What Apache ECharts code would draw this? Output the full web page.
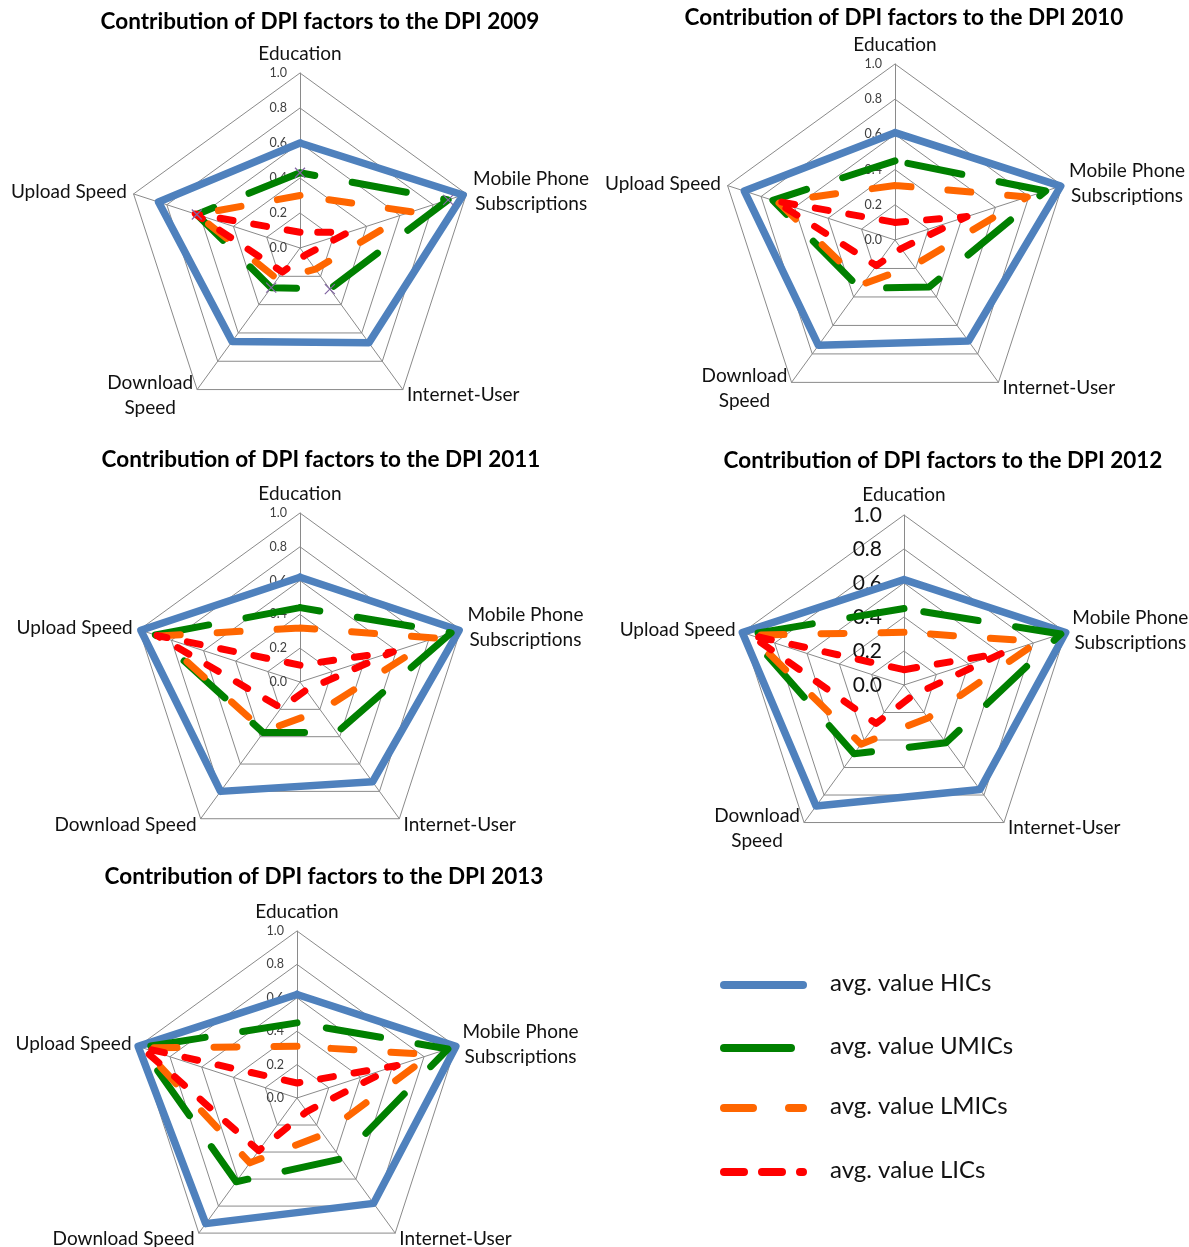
<!DOCTYPE html>
<html><head><meta charset="utf-8">
<script src="https://cdn.jsdelivr.net/npm/echarts@6/dist/echarts.min.js"></script>
<style>html,body{margin:0;padding:0;background:#fff}#c{width:1189px;height:1247px}</style>
</head><body><div id="c"></div>
<script>
// ---- data ----
const years = ['2009', '2010', '2011', '2012', '2013'];
// order used by the radar (counter-clockwise from top): Education, Upload, Download, Internet, Mobile
const factorsSplit = ['Education', 'Upload Speed', 'Download\nSpeed', 'Internet-User', 'Mobile Phone\nSubscriptions'];
const factorsFlat = ['Education', 'Upload Speed', 'Download Speed', 'Internet-User', 'Mobile Phone\nSubscriptions'];
const tickLabels = ['0.0', '0.2', '0.4', '0.6', '0.8', '1.0'];
const groups = ['avg. value HICs', 'avg. value UMICs', 'avg. value LMICs', 'avg. value LICs'];

const hic2009 = [0.60, 0.85, 0.66, 0.67, 0.98];
const umic2009 = [0.43, 0.62, 0.28, 0.29, 0.89];
const lmic2009 = [0.30, 0.62, 0.22, 0.15, 0.67];
const lic2009 = [0.09, 0.63, 0.17, 0.05, 0.29];

const hic2010 = [0.61, 0.90, 0.74, 0.71, 0.99];
const umic2010 = [0.45, 0.73, 0.34, 0.33, 0.90];
const lmic2010 = [0.31, 0.70, 0.31, 0.18, 0.79];
const lic2010 = [0.10, 0.72, 0.18, 0.06, 0.43];

const hic2011 = [0.62, 0.99, 0.80, 0.73, 0.99];
const umic2011 = [0.44, 0.90, 0.37, 0.37, 0.94];
const lmic2011 = [0.32, 0.88, 0.36, 0.21, 0.84];
const lic2011 = [0.10, 0.89, 0.19, 0.06, 0.58];

const hic2012 = [0.62, 1.00, 0.88, 0.76, 1.00];
const umic2012 = [0.45, 0.96, 0.50, 0.42, 0.97];
const lmic2012 = [0.31, 0.95, 0.43, 0.24, 0.83];
const lic2012 = [0.09, 0.95, 0.28, 0.08, 0.61];

const hic2013 = [0.62, 1.00, 0.93, 0.78, 1.00];
const umic2013 = [0.45, 0.98, 0.62, 0.45, 0.95];
const lmic2013 = [0.31, 0.97, 0.48, 0.27, 0.84];
const lic2013 = [0.09, 0.98, 0.39, 0.10, 0.63];

const valuesByYear = [
  [hic2009, umic2009, lmic2009, lic2009],
  [hic2010, umic2010, lmic2010, lic2010],
  [hic2011, umic2011, lmic2011, lic2011],
  [hic2012, umic2012, lmic2012, lic2012],
  [hic2013, umic2013, lmic2013, lic2013]
];

// ---- layout / style ----
const FONT = 'Lato';
const layout = [
  { center: [300, 248], r: 175, tx: 320, ty: 22, names: factorsSplit, tick: 12.5, tickGap: 13, tickColor: '#404040' },
  { center: [895, 240], r: 176, tx: 904, ty: 18, names: factorsSplit, tick: 12.5, tickGap: 13, tickColor: '#404040' },
  { center: [300, 682], r: 169, tx: 321, ty: 460, names: factorsFlat, tick: 12.5, tickGap: 13, tickColor: '#404040' },
  { center: [904, 685], r: 170, tx: 943, ty: 461, names: factorsSplit, tick: 21, tickGap: 22, tickColor: '#111' },
  { center: [297, 1098], r: 167, tx: 324, ty: 877, names: factorsFlat, tick: 12.5, tickGap: 13, tickColor: '#404040' }
];
const colors = ['#4F81BD', '#008000', '#FF6600', '#FF0000'];
const lineStyles = [
  { color: colors[0], width: 7.5, type: 'solid', cap: 'round', join: 'round' },
  { color: colors[1], width: 7, type: [55, 38], cap: 'round', join: 'round' },
  { color: colors[2], width: 7, type: [23, 37], cap: 'round', join: 'round' },
  { color: colors[3], width: 7, type: [13, 21], cap: 'round', join: 'round' }
];

const radars = layout.map(L => ({
  center: L.center,
  radius: L.r,
  startAngle: 90,
  splitNumber: 5,
  shape: 'polygon',
  indicator: L.names.map((n, k) => ({
    name: n, min: 0, max: 1,
    axisLabel: k === 0 ? {
      show: true, showMinLabel: true, showMaxLabel: true,
      margin: L.tickGap, fontFamily: FONT, fontSize: L.tick, color: L.tickColor,
      formatter: v => tickLabels[Math.round(v * 5)]
    } : { show: false }
  })),
  nameGap: 7,
  axisName: {
    formatter: n => n.split('\n').map(s => '{n|' + s + '}').join('\n'),
    rich: { n: { fontFamily: FONT, fontSize: 19, color: '#111', align: 'center', lineHeight: 25 } }
  },
  splitLine: { lineStyle: { color: '#8a8a8a', width: 1 } },
  splitArea: { show: false },
  axisLine: { lineStyle: { color: '#8a8a8a', width: 1 } },
  axisTick: { show: false },
  axisLabel: { show: false }
}));

const series = [];
valuesByYear.forEach((vals, i) => {
  vals.forEach((v, g) => {
    const s = {
      type: 'radar', radarIndex: i, name: groups[g], silent: true,
      symbol: 'none',
      lineStyle: lineStyles[g],
      data: [{ value: v, name: groups[g] }]
    };
    if (i === 0 && g === 1) {
      s.symbol = 'path://M0,0L10,10M10,0L0,10';
      s.symbolSize = 10;
      s.itemStyle = { color: 'rgba(0,0,0,0)', borderColor: '#8064A2', borderWidth: 1.2 };
    }
    series.push(s);
  });
});

const graphics = [];
layout.forEach((L, i) => {
  graphics.push({
    type: 'text', x: L.tx, y: L.ty,
    style: { text: 'Contribution of DPI factors to the DPI ' + years[i], fontFamily: FONT, fontWeight: 'bold',
      fontSize: 22.5, fill: '#000', textAlign: 'center', textVerticalAlign: 'middle' }
  });
});
// legend
const legY = [985, 1048, 1108, 1172];
const legEnd = [803, 791, 803, 803];
const legDash = [null, null, [29, 36], [20, 18]];
groups.forEach((g, k) => {
  graphics.push({
    type: 'line', shape: { x1: 724, y1: legY[k], x2: legEnd[k], y2: legY[k] },
    style: { stroke: colors[k], lineWidth: 8, lineCap: 'round', lineDash: legDash[k] || null }
  });
  graphics.push({
    type: 'text', x: 830, y: legY[k] - 2,
    style: { text: g, fontFamily: FONT, fontSize: 24, fill: '#111', textAlign: 'left', textVerticalAlign: 'middle' }
  });
});

const chart = echarts.init(document.getElementById('c'), null, { renderer: 'canvas' });
chart.setOption({
  animation: false,
  backgroundColor: '#fff',
  radar: radars,
  series: series,
  graphic: graphics
});
</script></body></html>
